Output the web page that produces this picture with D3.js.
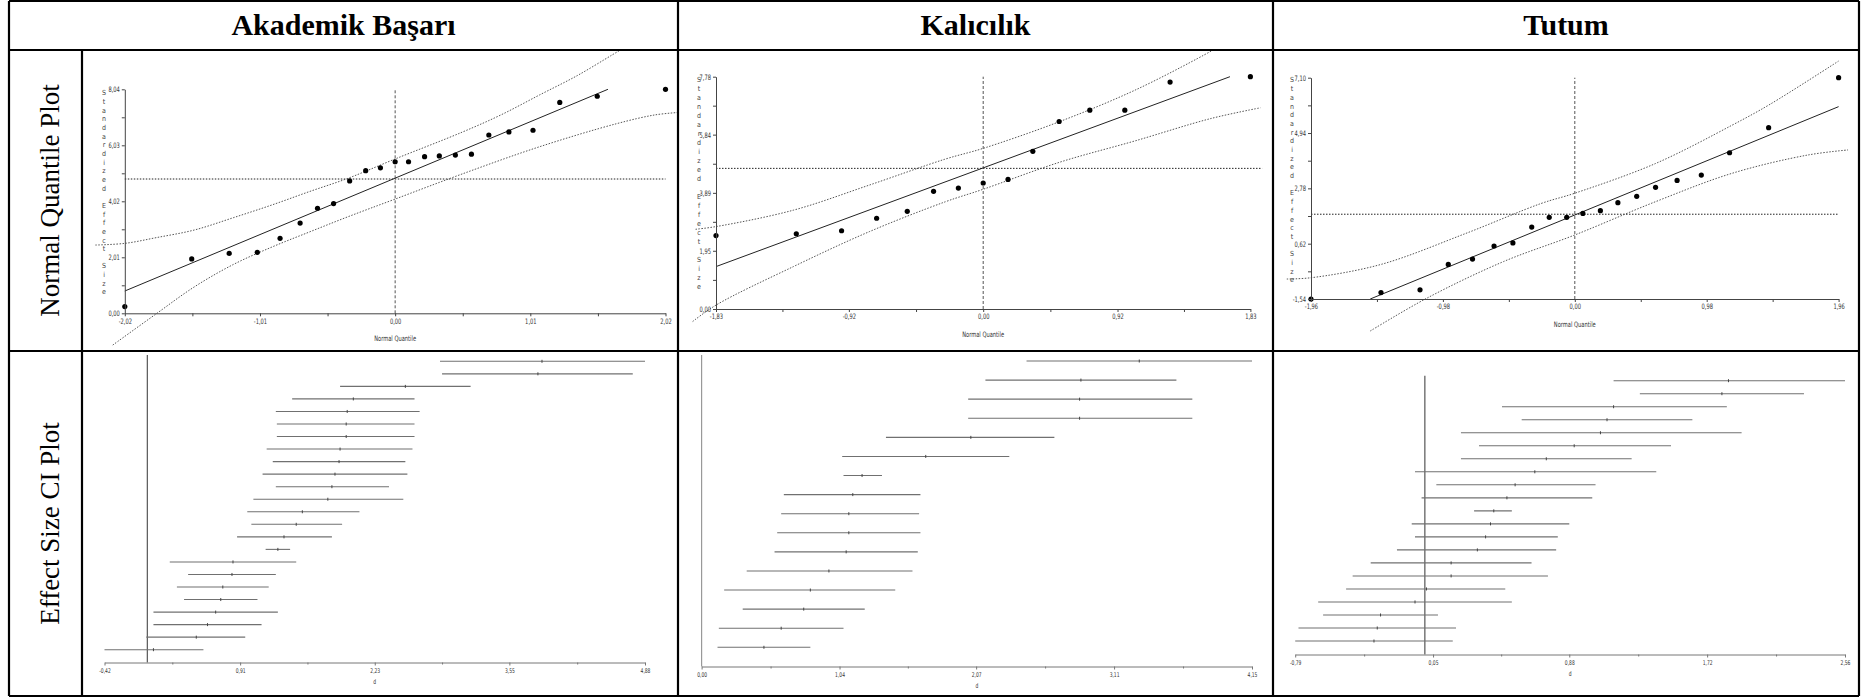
<!DOCTYPE html>
<html>
<head>
<meta charset="utf-8">
<title>Effect size plots</title>
<script src="https://d3js.org/d3.v7.min.js"></script>
<style>
    body { margin:0; background:#fff; }
    svg { display:block; }
    .head { font-family:'Liberation Serif','Times New Roman',serif; font-weight:bold; font-size:30px; }
    .side { font-family:'Liberation Serif','Times New Roman',serif; font-size:27px; }
    .tiny { font-family:'Liberation Sans Narrow','DejaVu Sans Condensed',sans-serif; fill:#333; }
</style>
</head>
<body>
<svg width="1872" height="697"></svg>
<script>

// ---- values ----
const columns = ['Akademik Başarı', 'Kalıcılık', 'Tutum'];
const rowLabels = ['Normal Quantile Plot', 'Effect Size CI Plot'];

// normal quantile plots: [normal quantile, standardized effect size]
const qqAkademik = [[-2.02,0.24],[-1.52,1.95],[-1.24,2.15],[-1.03,2.19],[-0.86,2.69],[-0.71,3.24],
    [-0.58,3.77],[-0.46,3.94],[-0.34,4.75],[-0.22,5.12],[-0.11,5.22],[0,5.44],[0.10,5.44],
    [0.22,5.62],[0.33,5.65],[0.45,5.68],[0.57,5.71],[0.70,6.40],[0.85,6.51],[1.03,6.57],
    [1.23,7.57],[1.51,7.79],[2.02,8.04]];
const qqAkademikFit = [[-2.02,0.80],[1.59,8.04]];
const qqAkademikUpper = [[-2.24,2.45],[-2.02,2.51],[-1.78,2.72],[-1.50,2.99],[-1.21,3.43],[-0.92,3.89],
    [-0.64,4.37],[-0.35,4.85],[0,5.54],[0.50,6.50],[0.79,7.12],[1.08,7.84],[1.36,8.53],[1.62,9.27],[1.70,9.50]];
const qqAkademikLower = [[-2.11,-1.14],[-1.78,0],[-1.50,0.95],[-1.21,1.75],[-0.92,2.38],[-0.64,2.92],
    [-0.35,3.47],[0,4.10],[0.50,5.00],[1.08,5.98],[1.65,6.80],[1.94,7.12],[2.12,7.21]];
const qqAkademikMean = 4.82;
const qqAkademikXTicks = [-2.02, -1.01, 0, 1.01, 2.02];
const qqAkademikYTicks = [0, 2.01, 4.02, 6.03, 8.04];

const qqKalicilik = [[-1.83,2.46],[-1.28,2.52],[-0.97,2.62],[-0.73,3.04],[-0.52,3.27],[-0.34,3.94],
    [-0.17,4.05],[0,4.22],[0.17,4.34],[0.34,5.28],[0.52,6.28],[0.73,6.66],[0.97,6.66],[1.28,7.60],[1.83,7.78]];
const qqKalicilikFit = [[-1.83,1.42],[1.69,7.78]];
const qqKalicilikUpper = [[-1.97,2.67],[-1.83,2.76],[-1.30,3.31],[-0.78,4.15],[-0.26,5.02],[0,5.38],
    [0.52,6.27],[1.04,7.33],[1.51,8.50],[1.60,8.75]];
const qqKalicilikLower = [[-1.99,-0.42],[-1.83,0.13],[-1.30,1.42],[-0.78,2.59],[-0.26,3.59],[0,4.01],
    [0.52,4.91],[1.04,5.63],[1.56,6.38],[1.90,6.74]];
const qqKalicilikMean = 4.71;
const qqKalicilikXTicks = [-1.83, -0.92, 0, 0.92, 1.83];
const qqKalicilikYTicks = [0, 1.95, 3.89, 5.84, 7.78];

const qqTutum = [[-1.96,-1.54],[-1.44,-1.29],[-1.15,-1.18],[-0.94,-0.19],[-0.76,0.02],[-0.60,0.53],
    [-0.46,0.65],[-0.32,1.27],[-0.19,1.65],[-0.06,1.65],[0.06,1.80],[0.19,1.91],[0.32,2.22],
    [0.46,2.47],[0.60,2.82],[0.76,3.09],[0.94,3.30],[1.15,4.17],[1.44,5.15],[1.96,7.10]];
const qqTutumFit = [[-1.52,-1.54],[1.96,5.97]];
const qqTutumUpper = [[-2.14,-0.76],[-1.96,-0.71],[-1.44,-0.19],[-0.81,1.02],[-0.25,2.19],[0,2.59],
    [0.60,3.75],[1.17,5.25],[1.45,6.06],[1.96,7.75]];
const qqTutumLower = [[-1.52,-2.79],[-1.10,-1.51],[-0.53,-0.08],[0,0.96],[0.60,2.26],[1.17,3.37],
    [1.73,4.08],[2.03,4.28]];
const qqTutumMean = 1.77;
const qqTutumXTicks = [-1.96, -0.98, 0, 0.98, 1.96];
const qqTutumYTicks = [-1.54, 0.62, 2.78, 4.94, 7.10];

// effect size CI plots: [lower, d, upper], top row first
const ciAkademik = [[2.87,3.87,4.88],[2.89,3.83,4.76],[1.89,2.53,3.17],[1.42,2.02,2.62],[1.26,1.96,2.67],
    [1.27,1.95,2.62],[1.27,1.95,2.62],[1.17,1.89,2.60],[1.23,1.88,2.53],[1.13,1.84,2.55],[1.26,1.81,2.37],
    [1.04,1.77,2.51],[0.98,1.52,2.08],[1.02,1.46,1.91],[0.88,1.34,1.81],[1.16,1.28,1.40],[0.22,0.84,1.46],
    [0.40,0.83,1.26],[0.29,0.74,1.19],[0.36,0.72,1.08],[0.06,0.67,1.28],[0.06,0.59,1.12],[-0.01,0.48,0.96],
    [-0.42,0.06,0.55]];
const ciAkademikTicks = [-0.42, 0.91, 2.23, 3.55, 4.88];

const ciKalicilik = [[2.45,3.30,4.15],[2.14,2.86,3.58],[2.01,2.85,3.70],[2.01,2.85,3.70],[1.39,2.03,2.66],
    [1.06,1.69,2.32],[1.07,1.21,1.36],[0.62,1.14,1.65],[0.60,1.11,1.64],[0.57,1.11,1.65],[0.55,1.09,1.63],
    [0.34,0.96,1.59],[0.17,0.82,1.46],[0.31,0.77,1.23],[0.13,0.60,1.07],[0.12,0.47,0.82]];
const ciKalicilikTicks = [0, 1.04, 2.07, 3.11, 4.15];

const ciTutum = [[1.15,1.85,2.56],[1.31,1.81,2.31],[0.47,1.15,1.84],[0.59,1.11,1.63],[0.22,1.07,1.93],
    [0.33,0.91,1.50],[0.22,0.74,1.26],[-0.06,0.67,1.41],[0.07,0.55,1.04],[-0.02,0.50,1.02],[0.30,0.42,0.53],
    [-0.08,0.40,0.88],[-0.06,0.37,0.81],[-0.17,0.32,0.80],[-0.33,0.16,0.65],[-0.44,0.16,0.75],
    [-0.48,0.01,0.49],[-0.65,-0.06,0.53],[-0.62,-0.27,0.08],[-0.77,-0.29,0.19],[-0.79,-0.31,0.17]];
const ciTutumTicks = [-0.79, 0.05, 0.88, 1.72, 2.56];

// ---- layout ----
let svg = d3.select('svg');
const fmt = d3.formatLocale({decimal: ',', thousands: '.', grouping: [3], currency: ['', ''], minus: '-'}).format('.2f');
const colX = [9, 82, 678, 1273, 1859];
const rowY = [1, 50, 351, 696];
const tinyFont = "'Liberation Sans Narrow','DejaVu Sans Condensed',sans-serif";

let qqPanels = [
    {id:'qq1', data:qqAkademik, fit:qqAkademikFit, upper:qqAkademikUpper, lower:qqAkademikLower, mean:qqAkademikMean,
     xTicks:qqAkademikXTicks, yTicks:qqAkademikYTicks, cell:[colX[1], colX[2]], xr:[124.8, 665.5], yr:[313.3, 89.3],
     titleX:104, titleY:[93, 292], hlineEnd:2.02},
    {id:'qq2', data:qqKalicilik, fit:qqKalicilikFit, upper:qqKalicilikUpper, lower:qqKalicilikLower, mean:qqKalicilikMean,
     xTicks:qqKalicilikXTicks, yTicks:qqKalicilikYTicks, cell:[colX[2], colX[3]], xr:[716, 1250.4], yr:[309, 76.7],
     titleX:699, titleY:[80, 287], hlineEnd:1.91},
    {id:'qq3', data:qqTutum, fit:qqTutumFit, upper:qqTutumUpper, lower:qqTutumLower, mean:qqTutumMean,
     xTicks:qqTutumXTicks, yTicks:qqTutumYTicks, cell:[colX[3], colX[4]], xr:[1311, 1838.6], yr:[299, 77.7],
     titleX:1292, titleY:[80, 280], hlineEnd:1.96}
];

let ciPanels = [
    {data:ciAkademik, ticks:ciAkademikTicks, xr:[104.5, 645], axisY:662.5, rows:[361.3, 649.7], zeroTop:355, zeroColor:'#555'},
    {data:ciKalicilik, ticks:ciKalicilikTicks, xr:[701.6, 1252], axisY:666.5, rows:[361, 647.3], zeroTop:355, zeroColor:'#999'},
    {data:ciTutum, ticks:ciTutumTicks, xr:[1295.2, 1845], axisY:654.5, rows:[380.7, 641], zeroTop:375.7, zeroColor:'#555'}
];

// table grid
let grid = svg.append('g').attr('stroke', '#000').attr('stroke-width', 2.2);
rowY.forEach(y => grid.append('line').attr('x1', colX[0]).attr('x2', colX[4]).attr('y1', y).attr('y2', y));
[colX[0], colX[2], colX[3], colX[4]].forEach(x => grid.append('line').attr('x1', x).attr('x2', x).attr('y1', rowY[0]).attr('y2', rowY[3]));
grid.append('line').attr('x1', colX[1]).attr('x2', colX[1]).attr('y1', rowY[1]).attr('y2', rowY[3]);

// column headers (first header spans the label column too)
let headCenters = [(colX[0] + colX[2]) / 2, (colX[2] + colX[3]) / 2, (colX[3] + colX[4]) / 2];
svg.selectAll('.head').data(columns).join('text')
    .classed('head', true)
    .attr('x', (d, i) => headCenters[i])
    .attr('y', 35)
    .attr('text-anchor', 'middle')
    .text(d => d);

// row labels, rotated
svg.selectAll('.side').data(rowLabels).join('text')
    .classed('side', true)
    .attr('text-anchor', 'middle')
    .attr('transform', (d, i) => `translate(59,${(rowY[i + 1] + rowY[i + 2]) / 2}) rotate(-90)`)
    .text(d => d);

function styleAxis(sel, size) {
    sel.attr('font-family', tinyFont).attr('font-size', size).attr('color', '#444');
    sel.selectAll('text').attr('fill', '#333').classed('tiny', true);
}

function drawQQ(p) {
    let x = d3.scaleLinear().domain(d3.extent(p.xTicks)).range(p.xr);
    let y = d3.scaleLinear().domain(d3.extent(p.yTicks)).range(p.yr);
    let g = svg.append('g');

    g.append('clipPath').attr('id', 'clip-' + p.id)
        .append('rect')
        .attr('x', p.cell[0] + 1).attr('y', rowY[1] + 1)
        .attr('width', p.cell[1] - p.cell[0] - 2).attr('height', rowY[2] - rowY[1] - 2);
    let inner = g.append('g').attr('clip-path', `url(#clip-${p.id})`);

    // mean line and zero line
    inner.append('line')
        .attr('x1', x(p.xTicks[0])).attr('x2', x(p.hlineEnd))
        .attr('y1', y(p.mean)).attr('y2', y(p.mean))
        .attr('stroke', '#222').attr('stroke-dasharray', '1.5,1.5');
    inner.append('line')
        .attr('x1', x(0)).attr('x2', x(0))
        .attr('y1', p.yr[0]).attr('y2', p.yr[1])
        .attr('stroke', '#555').attr('stroke-dasharray', '3,2');

    // confidence band
    let band = d3.line().x(d => x(d[0])).y(d => y(d[1])).curve(d3.curveCatmullRom);
    [p.upper, p.lower].forEach(b => {
        inner.append('path').attr('d', band(b))
            .attr('fill', 'none').attr('stroke', '#555').attr('stroke-width', 1)
            .attr('stroke-dasharray', '1.5,1.5');
    });

    // fitted line
    inner.append('path')
        .attr('d', d3.line().x(d => x(d[0])).y(d => y(d[1]))(p.fit))
        .attr('fill', 'none').attr('stroke', '#222').attr('stroke-width', 1);

    // axes
    let xAxis = g.append('g').attr('transform', `translate(0,${p.yr[0]})`)
        .call(d3.axisBottom(x).tickValues(p.xTicks).tickSize(3).tickPadding(2).tickSizeOuter(0).tickFormat(fmt));
    g.append('g').attr('transform', `translate(0,${p.yr[0]})`)
        .call(d3.axisBottom(x).tickValues(d3.pairs(p.xTicks, (a, b) => (a + b) / 2)).tickSize(3).tickFormat(''))
        .call(a => a.select('.domain').remove())
        .attr('color', '#444');
    let yAxis = g.append('g').attr('transform', `translate(${p.xr[0]},0)`)
        .call(d3.axisLeft(y).tickValues(p.yTicks).tickSize(3).tickPadding(2).tickSizeOuter(0).tickFormat(fmt));
    g.append('g').attr('transform', `translate(${p.xr[0]},0)`)
        .call(d3.axisLeft(y).tickValues(d3.pairs(p.yTicks, (a, b) => (a + b) / 2)).tickSize(3).tickFormat(''))
        .call(a => a.select('.domain').remove())
        .attr('color', '#444');
    styleAxis(xAxis, 7.5);
    styleAxis(yAxis, 7.5);

    g.append('text').attr('class', 'tiny')
        .attr('x', x(0)).attr('y', p.yr[0] + 28)
        .attr('text-anchor', 'middle').attr('font-size', 7.5)
        .text('Normal Quantile');

    // stacked axis title
    let chars = 'Standardized Effect Size'.split('');
    let step = (p.titleY[1] - p.titleY[0]) / (chars.length - 1);
    g.append('g').selectAll('text').data(chars).join('text')
        .attr('class', 'stack')
        .attr('font-family', tinyFont)
        .attr('fill', '#444')
        .attr('font-size', 7)
        .attr('x', p.titleX)
        .attr('y', (d, i) => p.titleY[0] + i * step)
        .attr('dy', '0.35em')
        .attr('text-anchor', 'middle')
        .text(d => d);

    // points
    inner.selectAll('circle').data(p.data).join('circle')
        .attr('cx', d => x(d[0]))
        .attr('cy', d => y(d[1]))
        .attr('r', 2.6)
        .attr('fill', '#000');
}

function drawCI(p) {
    let x = d3.scaleLinear().domain(d3.extent(p.ticks)).range(p.xr);
    let y = d3.scalePoint().domain(d3.range(p.data.length)).range(p.rows);
    let g = svg.append('g');

    g.append('line')
        .attr('x1', x(0)).attr('x2', x(0))
        .attr('y1', p.zeroTop).attr('y2', p.axisY)
        .attr('stroke', p.zeroColor).attr('stroke-width', 1.2);

    g.selectAll('.ci').data(p.data).join('line')
        .classed('ci', true)
        .attr('x1', d => x(d[0])).attr('x2', d => x(d[2]))
        .attr('y1', (d, i) => y(i)).attr('y2', (d, i) => y(i))
        .attr('stroke', '#707070').attr('stroke-width', 1.1);
    g.selectAll('.est').data(p.data).join('line')
        .classed('est', true)
        .attr('x1', d => x(d[1])).attr('x2', d => x(d[1]))
        .attr('y1', (d, i) => y(i) - 1.5).attr('y2', (d, i) => y(i) + 1.5)
        .attr('stroke', '#444');

    let axis = g.append('g').attr('transform', `translate(0,${p.axisY})`)
        .call(d3.axisBottom(x).tickValues(p.ticks).tickSize(3).tickPadding(3).tickSizeOuter(0).tickFormat(fmt));
    styleAxis(axis, 6.5);
    axis.attr('color', '#777');
    g.append('g').attr('transform', `translate(0,${p.axisY})`)
        .call(d3.axisBottom(x).tickValues(d3.pairs(p.ticks, (a, b) => (a + b) / 2)).tickSize(2).tickFormat(''))
        .call(a => a.select('.domain').remove())
        .attr('color', '#777');

    g.append('text').attr('class', 'tiny')
        .attr('x', (p.xr[0] + p.xr[1]) / 2).attr('y', p.axisY + 21)
        .attr('text-anchor', 'middle').attr('font-size', 6.5)
        .text('d');
}

qqPanels.forEach(drawQQ);
ciPanels.forEach(drawCI);

// the plot software uses a narrow face: squeeze the small labels
svg.selectAll('text.tiny').each(function() {
    let w = this.getComputedTextLength();
    d3.select(this).attr('textLength', w * 0.76).attr('lengthAdjust', 'spacingAndGlyphs');
});

</script>
</body>
</html>
